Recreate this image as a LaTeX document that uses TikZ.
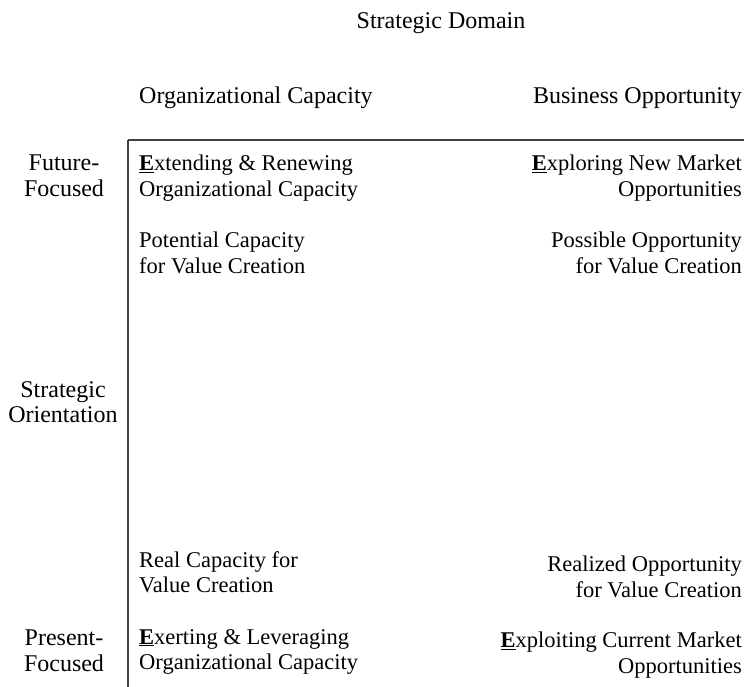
\documentclass[tikz,border=0pt]{standalone}
\usepackage{fontspec}
\setmainfont{Liberation Serif}
\usetikzlibrary{positioning}
\newcommand{\firstE}{\underline{\textbf{E}}}

\begin{document}
\begin{tikzpicture}[x=1pt,y=-1pt,
	lbl/.style={inner sep=0pt, font=\fontsize{24}{25.5}\selectfont},
	body/.style={inner sep=0pt, font=\fontsize{22.5}{25.5}\selectfont},
	lft/.style={body, align=left, anchor=north west},
	rgt/.style={body, align=right, anchor=north east},
	mid/.style={lbl, align=center, anchor=north},
	axis/.style={line width=1.6pt, color=black!75}]
	%%%%% START %%%%%
	\useasboundingbox (0,0) rectangle (744,687);

	% headings
	\node[mid] (domain) at (441,12) {Strategic Domain};
	\node[lbl, anchor=north west] (capacity) at (139,87) {Organizational Capacity};
	\node[lbl, anchor=north east] (opportunity) at (742,87) {Business Opportunity};

	% axes
	\coordinate (corner) at (128,140);
	\coordinate (xend) at (744,140);
	\coordinate (yend) at (128,687);
	\draw[axis] (xend) -- (corner);
	\draw[axis, line width=1.3pt] (corner) -- (yend);

	% orientation
	\node[mid] (future) at (64,155) {Future-\\Focused};
	\node[mid] (orient) at (63,381) {Strategic\\Orientation};
	\node[mid] (present) at (64,630) {Present-\\Focused};

	% future row
	\node[lft] (extend) at (139,155) {\firstE xtending \& Renewing\\Organizational Capacity};
	\node[lft] (potential) at (139,232) {Potential Capacity\\for Value Creation};
	\node[rgt] (explore) at (742,155) {\firstE xploring New Market\\Opportunities};
	\node[rgt] (possible) at (742,232) {Possible Opportunity\\for Value Creation};

	% present row
	\node[lft] (real) at (139,551) {Real Capacity for\\Value Creation};
	\node[rgt] (realized) at (742,556) {Realized Opportunity\\for Value Creation};
	\node[lft] (exert) at (139,629) {\firstE xerting \& Leveraging\\Organizational Capacity};
	\node[rgt] (exploit) at (742,632) {\firstE xploiting Current Market\\Opportunities};
	%%%%% END %%%%%
\end{tikzpicture}
\end{document}
